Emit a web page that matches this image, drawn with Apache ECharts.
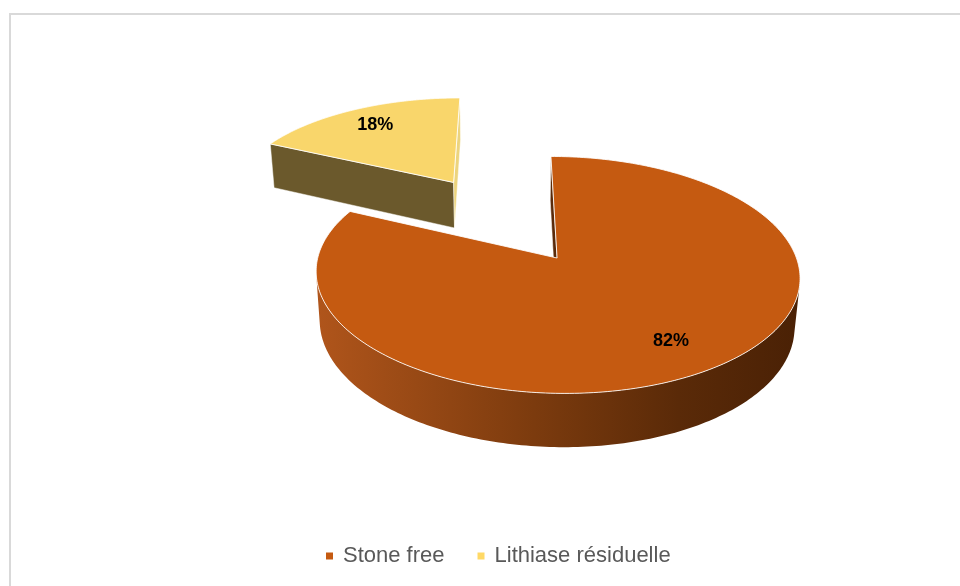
<!DOCTYPE html>
<html><head><meta charset="utf-8">
<script src="https://cdn.jsdelivr.net/npm/echarts@6/dist/echarts.min.js"></script>
<style>html,body{margin:0;padding:0;background:#fff}#c{width:960px;height:586px}</style>
</head><body><div id="c"></div>
<script>
// ---- data ----
const categories = ['Stone free', 'Lithiase résiduelle'];
const values = [82, 18];
const labels = ['82%', '18%'];

// ---- styles ----
const topColors = ['#C55A11', '#F9D66B'];
const legendColors = ['#C55A11', '#FFD966'];
const faceColors = [['#5a2a0a', '#5a2a0a'], ['#6b592c', '#ecd47e']];
const wallStops = [
  [['#b0551b', 0], ['#7c3b0e', 0.45], ['#5a2a08', 0.75], ['#4a2105', 1]],
  [['#8a7436', 0], ['#6b592c', 1]]
];
const explode = [0, 0.85];

// ---- perspective camera ----
const CAM = { sx0: 508, sy0: 258, f: 1465, dist: 6.12, tilt: 29 * Math.PI / 180, x0: 0.205, h: 0.237 };
const SIN = Math.sin(CAM.tilt), COS = Math.cos(CAM.tilt);
function proj(X, Y, Z) {
  const zc = CAM.dist + Z * COS - Y * SIN;
  const yc = Y * COS + Z * SIN;
  return [CAM.sx0 + CAM.f * X / zc, CAM.sy0 - CAM.f * yc / zc];
}
const camW = [0, CAM.dist * SIN, -CAM.dist * COS];

function makeRender(i) {
  return function (params, api) {
    const v = api.value(0);
    const total = values.reduce((a, b) => a + b, 0);
    let before = 0;
    for (let k = 0; k < i; k++) before += values[k];
    const t1 = before / total * 2 * Math.PI, t2 = (before + v) / total * 2 * Math.PI;
    const tm = (t1 + t2) / 2;
    const cx = CAM.x0 + explode[i] * Math.sin(tm), cz = explode[i] * Math.cos(tm);
    const H = CAM.h;
    const P = (th, r, Y) => proj(cx + r * Math.sin(th), Y, cz + r * Math.cos(th));
    const children = [];
    const N = 300;
    // outer wall
    const vis = [];
    for (let k = 0; k <= N; k++) {
      const th = t1 + (t2 - t1) * k / N;
      const nx = Math.sin(th), nz = Math.cos(th);
      const d = nx * (camW[0] - (cx + nx)) + nz * (camW[2] - (cz + nz));
      vis.push(d > 0);
    }
    let k = 0;
    while (k <= N) {
      if (!vis[k]) { k++; continue; }
      let a = k;
      while (k <= N && vis[k]) k++;
      let b = k - 1;
      a = Math.max(0, a - 1); b = Math.min(N, b + 1);
      const pts = [];
      for (let j = a; j <= b; j++) pts.push(P(t1 + (t2 - t1) * j / N, 1, 0));
      for (let j = b; j >= a; j--) pts.push(P(t1 + (t2 - t1) * j / N, 1, -H));
      children.push({
        type: 'polygon', shape: { points: pts },
        style: {
          fill: new echarts.graphic.LinearGradient(0, 0, 1, 0,
            wallStops[i].map(s => ({ offset: s[1], color: s[0] }))),
          stroke: null
        }
      });
    }
    // radial faces
    const faces = [
      { t: t1, n: [-Math.cos(t1), Math.sin(t1)], c: faceColors[i][0] },
      { t: t2, n: [Math.cos(t2), -Math.sin(t2)], c: faceColors[i][1] }
    ];
    faces.forEach(fc => {
      const d = fc.n[0] * (camW[0] - cx) + fc.n[1] * (camW[2] - cz);
      if (d > 0) {
        children.push({
          type: 'polygon',
          shape: { points: [P(fc.t, 0, 0), P(fc.t, 1, 0), P(fc.t, 1, -H), P(fc.t, 0, -H)] },
          style: { fill: fc.c, stroke: 'rgba(255,255,255,0.6)', lineWidth: 0.8 }
        });
      }
    });
    // top face
    const top = [P(0, 0, 0)];
    for (let j = 0; j <= N; j++) top.push(P(t1 + (t2 - t1) * j / N, 1, 0));
    children.push({
      type: 'polygon', shape: { points: top },
      style: { fill: topColors[i], stroke: 'rgba(255,255,255,0.85)', lineWidth: 1 }
    });
    // label
    const lp = P(tm, 0.77, 0);
    children.push({
      type: 'text', x: lp[0], y: lp[1],
      style: {
        text: labels[i], fill: '#000', fontSize: 18, fontWeight: 'bold',
        fontFamily: '"Liberation Sans", Arial, sans-serif', align: 'center', verticalAlign: 'middle'
      }
    });
    return { type: 'group', children };
  };
}

const chart = echarts.init(document.getElementById('c'), null, { renderer: 'canvas' });
chart.setOption({
  animation: false,
  backgroundColor: '#fff',
  graphic: [{
    type: 'rect', shape: { x: 10, y: 14, width: 980, height: 620 },
    style: { fill: null, stroke: '#d9d9d9', lineWidth: 2 }, silent: true, z: 0
  }],
  legend: {
    data: categories, left: 321, top: 540, icon: 'rect', itemWidth: 7, itemHeight: 7, itemGap: 33,
    selectedMode: false,
    textStyle: { color: '#595959', fontSize: 22, fontFamily: '"Liberation Sans", Arial, sans-serif', padding: [0, 0, 0, 5] }
  },
  series: categories.map((name, i) => ({
    type: 'custom', name, coordinateSystem: 'none', renderItem: makeRender(i),
    data: [values[i]], z: i === 0 ? 3 : 2, itemStyle: { color: legendColors[i] }, silent: true
  }))
});
</script></body></html>
